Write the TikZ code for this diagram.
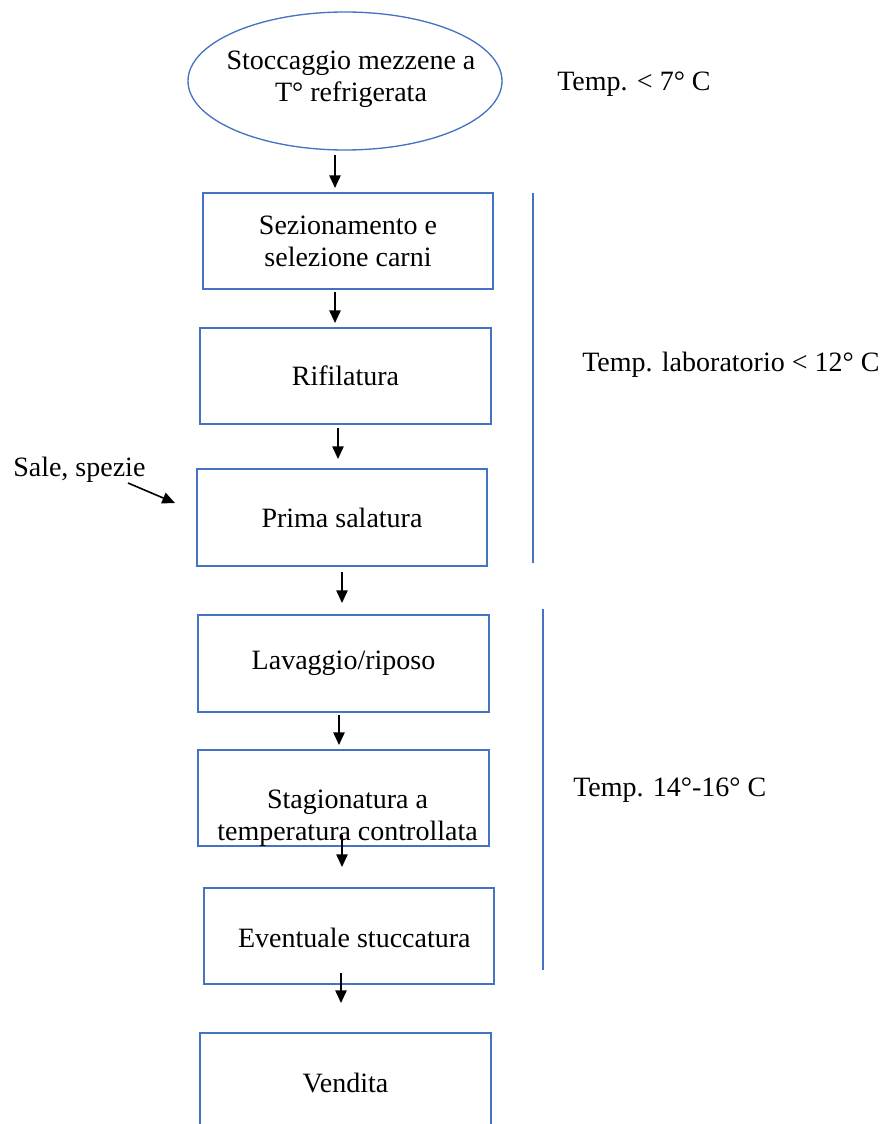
\documentclass[tikz,border=0pt]{standalone}
\usepackage{fontspec}
\setmainfont{Liberation Serif}
\usetikzlibrary{arrows.meta,shapes.geometric}
\definecolor{boxblue}{HTML}{4472C4}
\begin{document}
\begin{tikzpicture}[x=0.75pt,y=-0.75pt,
  font=\fontsize{21pt}{24pt}\selectfont,
  box/.style={draw=boxblue,line width=1pt,rectangle,inner sep=0pt,outer sep=0pt,align=center},
  oval/.style={draw=boxblue,line width=1pt,ellipse,inner sep=0pt,outer sep=0pt,minimum width=235.5pt,minimum height=103.5pt},
  txt/.style={inner sep=0pt,align=center},
  arr/.style={line width=1.2pt,-{Triangle[length=9.5pt,width=8.5pt]}},
  bar/.style={draw=boxblue,line width=1.4pt}]
\clip (0,0) rectangle (885,1124);
\useasboundingbox (0,0) rectangle (885,1124);

% nodes
\node[oval] (e) at (345,81) {};
\node[txt] (et) at (351,79) {Stoccaggio mezzene a\\T° refrigerata};
\node[box,minimum width=217.5pt,minimum height=72pt] (b1) at (348,241) {Sezionamento e\\selezione carni};
\node[box,minimum width=218.25pt,minimum height=72pt] (b2) at (345.5,376) {Rifilatura};
\node[box,minimum width=217.5pt,minimum height=72.75pt] (b3) at (342,517.5) {Prima salatura};
\node[box,minimum width=218.25pt,minimum height=72.75pt] (b4) at (343.5,663.5) {Lavaggio/riposo};
\node[box,minimum width=218.25pt,minimum height=72pt] (b5) at (343.5,798) {};
\node[txt] (b5t) at ([xshift=3pt,yshift=-15pt]b5.center) {Stagionatura a\\temperatura controllata};
\node[box,minimum width=217.5pt,minimum height=72pt] (b6) at (349,936) {};
\node[txt] (b6t) at ([xshift=4pt,yshift=-1.5pt]b6.center) {Eventuale stuccatura};
\node[box,minimum width=218.25pt,minimum height=75pt] (b7) at (345.5,1083) {Vendita};

% side texts
\node[txt,anchor=west] (t1) at (557,84) {Temp. < 7° C};
\node[txt,anchor=west] (t2) at (582,365) {Temp. laboratorio < 12° C};
\node[txt,anchor=west] (t3) at (573,790) {Temp. 14°-16° C};
\node[txt,anchor=west] (sale) at (13,470) {Sale, spezie};

% bracket lines
\coordinate (l1a) at (533,193);
\coordinate (l1b) at (533,563);
\coordinate (l2a) at (543,609);
\coordinate (l2b) at (543,970);
\draw[bar] (l1a) -- (l1b);
\draw[bar] (l2a) -- (l2b);

% flow arrows
\draw[arr,shorten <=3.75pt,shorten >=3.75pt] ([xshift=-7.5pt]e.south) -- ([xshift=-9.75pt]b1.north);
\draw[arr,shorten <=2.25pt,shorten >=3.75pt] ([xshift=-9.75pt]b1.south) -- ([xshift=-7.875pt]b2.north);
\draw[arr,shorten <=3pt,shorten >=7.5pt] ([xshift=-5.625pt]b2.south) -- ([xshift=-3pt]b3.north);
\draw[arr,shorten <=4.5pt,shorten >=9pt] (b3.south) -- ([xshift=-1.125pt]b4.north);
\draw[arr,shorten <=2.25pt,shorten >=3.75pt] ([xshift=-3.375pt]b4.south) -- ([xshift=-3.375pt]b5.north);
\draw[arr,shorten <=-8.25pt,shorten >=15.75pt] ([xshift=-1.125pt]b5.south) -- ([xshift=-5.25pt]b6.north);
\draw[arr,shorten <=-8.25pt,shorten >=22.5pt] ([xshift=-6pt]b6.south) -- ([xshift=-3.375pt]b7.north);

% input arrow
\coordinate (s1) at (128,483);
\coordinate (s2) at (175,503);
\draw[arr] (s1) -- (s2);
\end{tikzpicture}
\end{document}
